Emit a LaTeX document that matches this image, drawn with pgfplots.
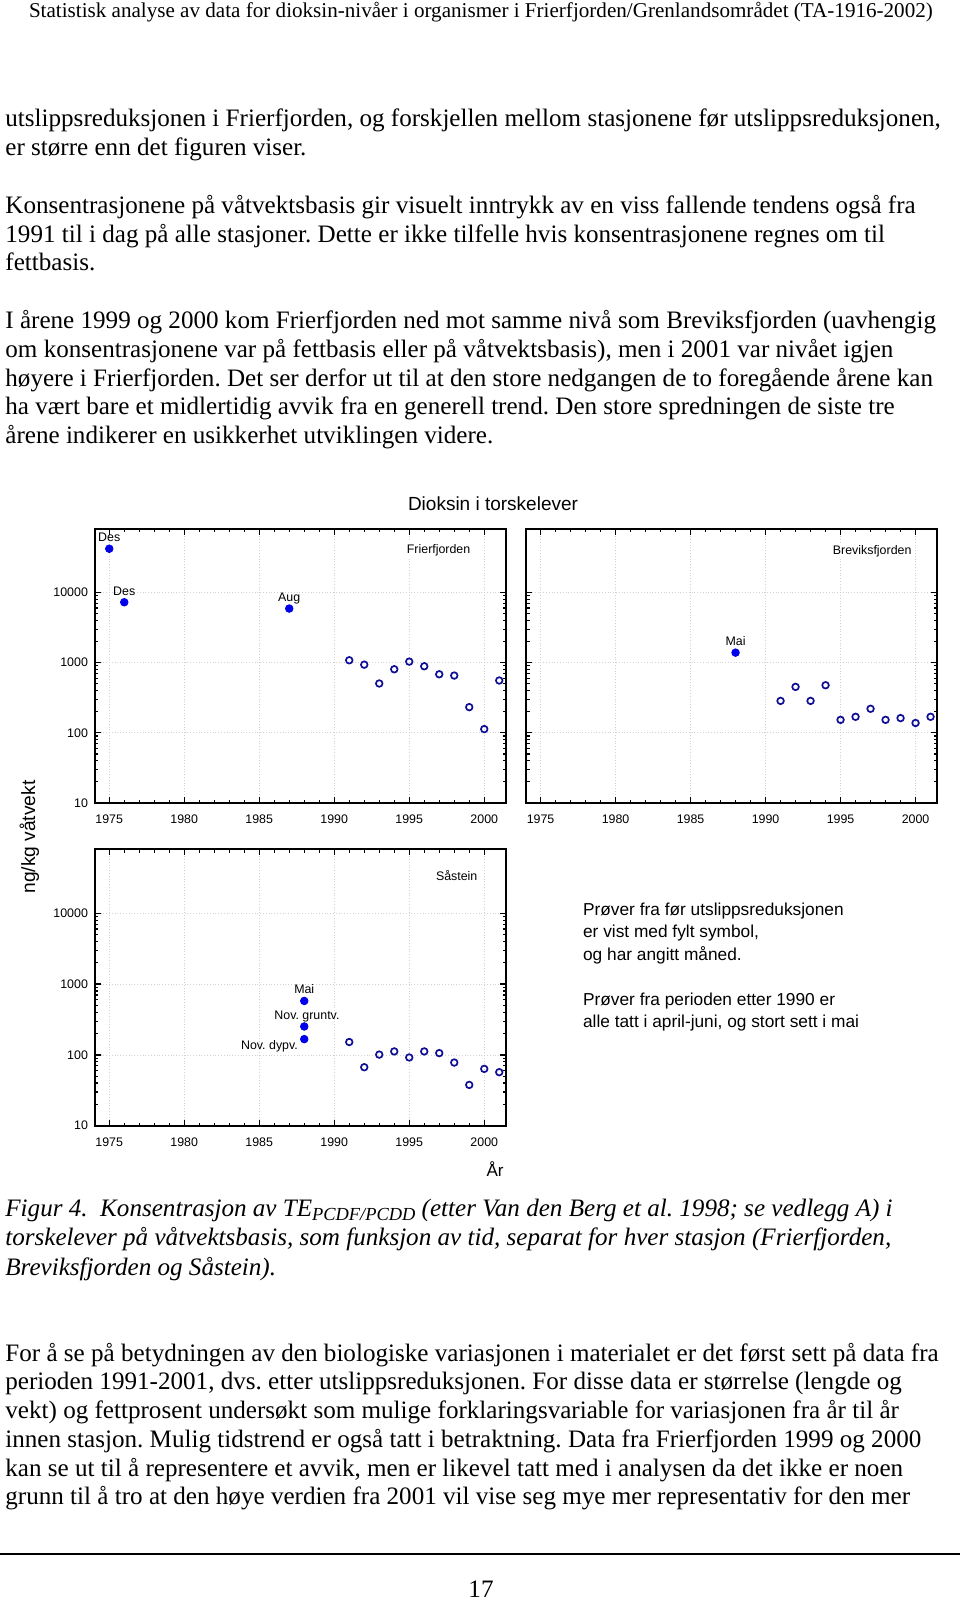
\documentclass[border=0pt]{standalone}
\usepackage{fontspec}
\setmainfont{Liberation Serif}
\newfontfamily\hv{Liberation Sans}
\usepackage{pgfplots}
\pgfplotsset{compat=1.18}
\frenchspacing

\definecolor{fillblue}{RGB}{0,0,235}
\definecolor{ringblue}{RGB}{15,15,150}

\newcommand\bodyfont{\fontsize{12.55}{15}\selectfont}
\newcommand\labfont{\hv\fontsize{6.2}{7}\selectfont}

\tikzset{lab/.style={font=\labfont, inner sep=0pt}}
\pgfplotsset{
  panel/.style={
    scale only axis, width=205.5pt, height=137pt,
    xmin=1974.05, xmax=2001.45, ymin=10, ymax=80000,
    xtick={1975,1980,1985,1990,1995,2000},
    xticklabels={1975,1980,1985,1990,1995,2000},
    minor x tick num=4,
    ytick={10,100,1000,10000},
    yticklabels={10,100,1000,10000},
    tick align=inside, xtick pos=both, ytick pos=both,
    major tick length=3pt, minor tick length=1.6pt,
    every tick/.style={black, line width=0.6pt},
    grid=major, major grid style={densely dotted, gray!35, line width=0.4pt},
    axis line style={line width=1pt},
    tick label style={font=\labfont},
    xticklabel style={yshift=-2.5pt},
    clip=false,
  },
  filled/.style={only marks, mark=*, mark size=1.9pt, color=fillblue,
    mark options={fill=fillblue, draw=fillblue}},
  ring/.style={only marks, mark=o, mark size=1.65pt, color=ringblue,
    mark options={line width=0.85pt}},
}

\begin{document}
\begin{tikzpicture}
\path[use as bounding box] (0,0) rectangle (480pt,-800.5pt);

% page text, positions in pixels of the page
\begin{scope}[x=0.5pt, y=-0.5pt]
\node[anchor=base west, inner sep=0, font=\fontsize{10.55}{12}\selectfont] at (28.6,17)
  {Statistisk analyse av data for dioksin-nivåer i organismer i Frierfjorden/Grenlandsområdet (TA-1916-2002)};

\begin{scope}[every node/.style={anchor=base west, inner sep=0, font=\bodyfont}]
\node at (5,126.4) {utslippsreduksjonen i Frierfjorden, og forskjellen mellom stasjonene før utslippsreduksjonen,};
\node at (5,155.1) {er større enn det figuren viser.};
\node at (5,213.3) {Konsentrasjonene på våtvektsbasis gir visuelt inntrykk av en viss fallende tendens også fra};
\node at (5,242.0) {1991 til i dag på alle stasjoner. Dette er ikke tilfelle hvis konsentrasjonene regnes om til};
\node at (5,270.7) {fettbasis.};
\node at (5,328.7) {I årene 1999 og 2000 kom Frierfjorden ned mot samme nivå som Breviksfjorden (uavhengig};
\node at (5,357.4) {om konsentrasjonene var på fettbasis eller på våtvektsbasis), men i 2001 var nivået igjen};
\node at (5,386.1) {høyere i Frierfjorden. Det ser derfor ut til at den store nedgangen de to foregående årene kan};
\node at (5,414.8) {ha vært bare et midlertidig avvik fra en generell trend. Den store spredningen de siste tre};
\node at (5,443.5) {årene indikerer en usikkerhet utviklingen videre.};

\node at (5,1216) {\itshape Figur 4.\ \ Konsentrasjon av TE\raisebox{-0.35ex}{\fontsize{9.2}{10}\selectfont PCDF/PCDD} (etter Van den Berg et al. 1998; se vedlegg A) i};
\node at (5,1245.5) {\itshape torskelever på våtvektsbasis, som funksjon av tid, separat for hver stasjon (Frierfjorden,};
\node at (5,1275) {\itshape Breviksfjorden og Såstein).};

\node at (5,1361.2) {For å se på betydningen av den biologiske variasjonen i materialet er det først sett på data fra};
\node at (5,1389.9) {perioden 1991-2001, dvs. etter utslippsreduksjonen. For disse data er størrelse (lengde og};
\node at (5,1418.6) {vekt) og fettprosent undersøkt som mulige forklaringsvariable for variasjonen fra år til år};
\node at (5,1447.3) {innen stasjon. Mulig tidstrend er også tatt i betraktning. Data fra Frierfjorden 1999 og 2000};
\node at (5,1476.0) {kan se ut til å representere et avvik, men er likevel tatt med i analysen da det ikke er noen};
\node at (5,1504.7) {grunn til å tro at den høye verdien fra 2001 vil vise seg mye mer representativ for den mer};
\end{scope}

\draw[line width=1pt] (0,1553.5) -- (960,1553.5);
\node[anchor=base, inner sep=0, font=\bodyfont] at (481,1597.5) {17};

% chart texts
\node[anchor=base, inner sep=0, font=\hv\fontsize{9.5}{11}\selectfont] at (493,510.7) {Dioksin i torskelever};
\node[anchor=base, inner sep=0, rotate=90, font=\hv\fontsize{9.6}{11}\selectfont] at (35,837) {ng/kg våtvekt};
\node[anchor=base, inner sep=0, font=\hv\fontsize{8.5}{10}\selectfont] at (495,1176.5) {År};
\begin{scope}[every node/.style={anchor=base west, inner sep=0, font=\hv\fontsize{8.65}{10}\selectfont}]
\node at (582.7,915) {Prøver fra før utslippsreduksjonen};
\node at (582.7,937.7) {er vist med fylt symbol,};
\node at (582.7,960.4) {og har angitt måned.};
\node at (582.7,1005) {Prøver fra perioden etter 1990 er};
\node at (582.7,1027.7) {alle tatt i april-juni, og stort sett i mai};
\end{scope}
\end{scope}

% Frierfjorden
\begin{axis}[ymode=log, panel, at={(47.5pt,-264.5pt)}, anchor=north west]
\addplot[filled] coordinates {(1975,41900) (1976,7240) (1987,5890)};
\addplot[ring] coordinates {
  (1991,1080) (1992,935) (1993,504) (1994,804) (1995,1033) (1996,887)
  (1997,682) (1998,654) (1999,232) (2000,113) (2001,556)};
\node[lab, anchor=base, yshift=3.6pt] at (axis cs:1975,41900) {Des};
\node[lab, anchor=base, yshift=3.6pt] at (axis cs:1976,7240) {Des};
\node[lab, anchor=base, yshift=3.6pt] at (axis cs:1987,5890) {Aug};
\node[lab, fill=white, inner sep=1pt] at (rel axis cs:0.836,0.923) {Frierfjorden};
\end{axis}

% Breviksfjorden
\begin{axis}[ymode=log, panel, at={(263.15pt,-264.5pt)}, anchor=north west, yticklabels={}]
\addplot[filled] coordinates {(1988,1387)};
\addplot[ring] coordinates {
  (1991,285) (1992,451) (1993,285) (1994,476) (1995,153) (1996,169)
  (1997,220) (1998,153) (1999,162) (2000,138) (2001,169)};
\node[lab, anchor=base, yshift=3.6pt] at (axis cs:1988,1387) {Mai};
\node[lab, fill=white, inner sep=1pt] at (rel axis cs:0.8415,0.92) {Breviksfjorden};
\end{axis}

% Saastein
\begin{axis}[ymode=log, panel, height=138.2pt, at={(47.5pt,-424.65pt)}, anchor=north west]
\addplot[filled] coordinates {(1988,578) (1988,252) (1988,167)};
\addplot[ring] coordinates {
  (1991,152) (1992,67) (1993,101) (1994,112) (1995,92) (1996,112)
  (1997,106) (1998,78) (1999,37.7) (2000,63.5) (2001,57)};
\node[lab, anchor=base, yshift=3.8pt] at (axis cs:1988,578) {Mai};
\node[lab, anchor=base, xshift=1.35pt, yshift=3.7pt] at (axis cs:1988,252) {Nov. gruntv.};
\node[lab, anchor=base east, xshift=-3pt, yshift=-5pt] at (axis cs:1988,167) {Nov. dypv.};
\node[lab, fill=white, inner sep=1pt] at (rel axis cs:0.88,0.9045) {Såstein};
\end{axis}
\end{tikzpicture}
\end{document}
